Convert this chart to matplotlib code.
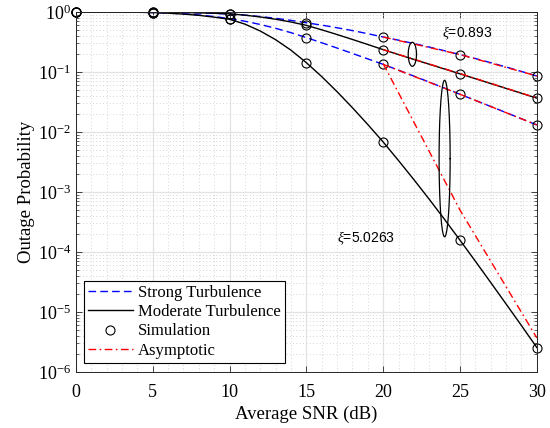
import numpy as np
import matplotlib.pyplot as plt
from matplotlib.ticker import LogLocator, MultipleLocator, LogFormatterMathtext, NullFormatter

plt.rcParams["font.family"] = ["Liberation Serif", "DejaVu Serif"]
plt.rcParams["mathtext.fontset"] = "custom"
plt.rcParams["mathtext.rm"] = "Liberation Serif"
plt.rcParams["mathtext.it"] = "Liberation Serif:italic"

# average SNR (dB), 1 dB steps
snr = list(range(0, 31))

# log10 of outage probability
strong_low_xi = [0, 0, -0.0002, -0.0006, -0.0012, -0.002, -0.005, -0.009, -0.015, -0.023,
                 -0.035, -0.053, -0.076, -0.105, -0.140, -0.180, -0.219, -0.263, -0.310, -0.362,
                 -0.417, -0.470, -0.526, -0.585, -0.646, -0.710, -0.776, -0.845, -0.917, -0.991,
                 -1.067]
moderate_low_xi = [0, 0, -0.0003, -0.001, -0.002, -0.004, -0.006, -0.009, -0.014, -0.021,
                   -0.031, -0.053, -0.083, -0.121, -0.167, -0.223, -0.297, -0.376, -0.458, -0.542,
                   -0.628, -0.710, -0.791, -0.871, -0.951, -1.031, -1.112, -1.193, -1.274, -1.355,
                   -1.436]
strong_high_xi = [0, -0.0002, -0.0008, -0.002, -0.005, -0.010, -0.018, -0.031, -0.050, -0.076,
                  -0.110, -0.154, -0.208, -0.272, -0.345, -0.427, -0.513, -0.601, -0.691, -0.782,
                  -0.873, -0.970, -1.069, -1.169, -1.270, -1.372, -1.473, -1.575, -1.677, -1.780,
                  -1.883]
moderate_high_xi = [0, 0, -0.0005, -0.0015, -0.004, -0.010, -0.020, -0.035, -0.056, -0.086,
                    -0.122, -0.202, -0.317, -0.462, -0.637, -0.845, -1.077, -1.329, -1.596, -1.876,
                    -2.167, -2.477, -2.795, -3.122, -3.459, -3.804, -4.154, -4.509, -4.867, -5.227,
                    -5.593]

# simulation points every 5 dB
sim_step = 5

# asymptotic curves (high SNR)
asym_snr = [20, 25, 30]
asym_curves = [
    [0.383, 0.195, 0.0858],
    [0.236, 0.094, 0.0369],
    [0.134, 0.0425, 0.0131],
    [0.138, 5.0e-4, 3.7e-6],
]

fig = plt.figure(figsize=(5.5, 4.28), dpi=100)
ax = fig.add_axes([0.138, 0.131, 0.838, 0.841])
ax.set_yscale("log")

grey = "#262626"
dash = (5.5, 3.0)
dashdot = (5.5, 2.5, 1.2, 2.5)
curves = [
    (strong_low_xi, dash, "blue", "Strong Turbulence"),
    (moderate_low_xi, None, "black", "Moderate Turbulence"),
    (strong_high_xi, dash, "blue", None),
    (moderate_high_xi, None, "black", None),
]
for logp, dashes, color, label in curves:
    line, = ax.plot(snr, 10 ** np.array(logp), "-", color=color, lw=1.0, label=label)
    if dashes:
        line.set_dashes(dashes)

for i, (logp, _, _, _) in enumerate(curves):
    ax.plot(snr[::sim_step], 10 ** np.array(logp[::sim_step]), "o", mfc="none", mec="black",
            ms=6.5, mew=0.8, clip_on=False, label="Simulation" if i == 0 else None)

for i, vals in enumerate(asym_curves):
    line, = ax.plot(asym_snr, vals, "-", color="red", lw=1.0,
                    label="Asymptotic" if i == 0 else None)
    line.set_dashes(dashdot)

# ellipses grouping the curves
t = np.linspace(0, 2 * np.pi, 200)
for xc, lc, a, b in [(21.9, -0.705, 0.27, 0.2), (24.0, -2.443, 0.36, 1.305)]:
    ax.plot(xc + a * np.cos(t), 10 ** (lc + b * np.sin(t)), color="black", lw=0.9)

ax.text(23.8, 0.44, r"$\xi$=0.893", family=["Liberation Sans"], fontsize=10, va="center")
ax.text(17.0, 1.7e-4, r"$\xi$=5.0263", family=["Liberation Sans"], fontsize=10, va="center")

ax.set_xlim(0, 30)
ax.set_ylim(1e-6, 1)
ax.xaxis.set_major_locator(MultipleLocator(5))
ax.xaxis.set_minor_locator(MultipleLocator(1))
ax.yaxis.set_major_locator(LogLocator(base=10, numticks=10))
ax.yaxis.set_minor_locator(LogLocator(base=10, subs=np.arange(2, 10), numticks=20))
ax.yaxis.set_major_formatter(LogFormatterMathtext())
ax.yaxis.set_minor_formatter(NullFormatter())

ax.grid(which="major", color="#e3e3e3", lw=0.9, ls="-")
ax.grid(which="minor", color="#c8c8c8", lw=0.6, ls=(0, (1, 3)))
ax.set_axisbelow(True)

ax.tick_params(which="both", direction="in", top=True, right=True, colors=grey,
               labelcolor="black", labelsize=13)
ax.tick_params(which="major", length=4.5, width=0.6)
ax.tick_params(which="minor", length=2.2, width=0.5)
ax.tick_params(axis="x", which="minor", length=0)
ax.tick_params(axis="x", which="major", pad=8.5)
for spine in ax.spines.values():
    spine.set_color(grey)
    spine.set_linewidth(0.7)

ax.set_xlabel("Average SNR (dB)", fontsize=13.5, labelpad=3.5)
ax.set_ylabel("Outage Probability", fontsize=13.5, labelpad=2)

leg = ax.legend(loc="lower left", bbox_to_anchor=(0.017, 0.025), borderaxespad=0,
                fontsize=12, fancybox=False, framealpha=1, edgecolor="black",
                handlelength=2.7, handletextpad=0.3, labelspacing=0.2, borderpad=0.25)
leg.get_frame().set_linewidth(0.8)

fig.savefig("out.png", dpi=100)
